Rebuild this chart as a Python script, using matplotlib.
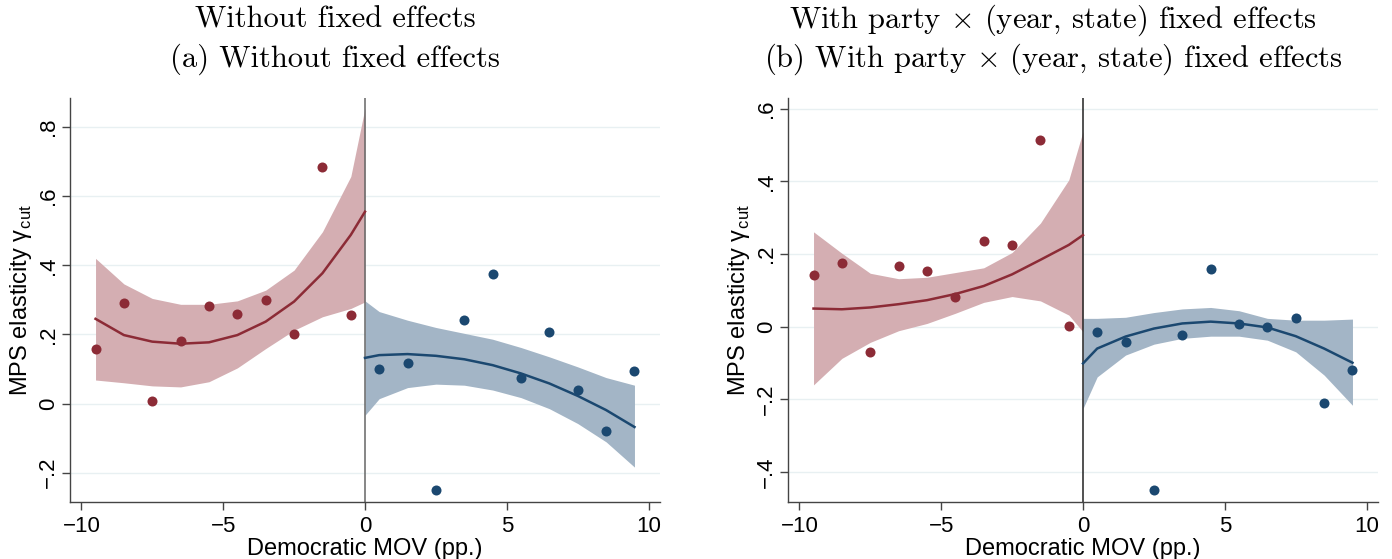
import numpy as np
import matplotlib
matplotlib.use("Agg")
import matplotlib.pyplot as plt

plt.rcParams['font.family'] = ['Liberation Sans', 'DejaVu Sans']
plt.rcParams['mathtext.fontset'] = 'cm'

# --- binned scatter (bins of 1 pp) ---
bins_rep = [-9.5, -8.5, -7.5, -6.5, -5.5, -4.5, -3.5, -2.5, -1.5, -0.5]
bins_dem = [0.5, 1.5, 2.5, 3.5, 4.5, 5.5, 6.5, 7.5, 8.5, 9.5]
fit_rep_x = [-9.5, -8.5, -7.5, -6.5, -5.5, -4.5, -3.5, -2.5, -1.5, -0.5, 0]
fit_dem_x = [0, 0.5, 1.5, 2.5, 3.5, 4.5, 5.5, 6.5, 7.5, 8.5, 9.5]

# panel (a): without fixed effects
a_rep_pts = [0.159, 0.290, 0.008, 0.181, 0.282, 0.258, 0.299, 0.201, 0.684, 0.255]
a_dem_pts = [0.099, 0.116, -0.251, 0.241, 0.374, 0.075, 0.207, 0.039, -0.080, 0.094]
a_rep_fit = [0.245, 0.198, 0.179, 0.173, 0.177, 0.198, 0.237, 0.295, 0.377, 0.488, 0.555]
a_rep_hi = [0.420, 0.346, 0.304, 0.287, 0.287, 0.297, 0.328, 0.386, 0.497, 0.657, 0.855]
a_rep_lo = [0.068, 0.060, 0.051, 0.048, 0.063, 0.103, 0.159, 0.212, 0.251, 0.275, 0.294]
a_dem_fit = [0.132, 0.140, 0.143, 0.138, 0.128, 0.111, 0.087, 0.058, 0.022, -0.019, -0.068]
a_dem_hi = [0.297, 0.266, 0.241, 0.220, 0.203, 0.186, 0.162, 0.135, 0.106, 0.075, 0.053]
a_dem_lo = [-0.034, 0.014, 0.046, 0.056, 0.053, 0.039, 0.017, -0.015, -0.058, -0.111, -0.184]

# panel (b): with party x (year, state) fixed effects
b_rep_pts = [0.142, 0.176, -0.069, 0.167, 0.152, 0.081, 0.236, 0.224, 0.513, 0.003]
b_dem_pts = [-0.014, -0.043, -0.450, -0.023, 0.158, 0.007, 0.000, 0.024, -0.211, -0.119]
b_rep_fit = [0.050, 0.048, 0.053, 0.062, 0.073, 0.090, 0.112, 0.144, 0.184, 0.225, 0.252]
b_rep_hi = [0.261, 0.202, 0.147, 0.132, 0.136, 0.149, 0.162, 0.204, 0.285, 0.404, 0.537]
b_rep_lo = [-0.160, -0.087, -0.043, -0.011, 0.009, 0.037, 0.067, 0.083, 0.071, 0.032, -0.014]
b_dem_fit = [-0.101, -0.060, -0.027, -0.005, 0.009, 0.014, 0.009, -0.002, -0.026, -0.060, -0.099]
b_dem_hi = [0.023, 0.023, 0.026, 0.039, 0.049, 0.053, 0.044, 0.023, 0.018, 0.018, 0.021]
b_dem_lo = [-0.225, -0.138, -0.078, -0.048, -0.032, -0.026, -0.026, -0.037, -0.069, -0.133, -0.216]

xticks = [-10, -5, 0, 5, 10]
xtick_labels = ['\u221210', '\u22125', '0', '5', '10']
a_yticks = [-0.2, 0, 0.2, 0.4, 0.6, 0.8]
a_ylabels = ['\u2212.2', '0', '.2', '.4', '.6', '.8']
b_yticks = [-0.4, -0.2, 0, 0.2, 0.4, 0.6]
b_ylabels = ['\u2212.4', '\u2212.2', '0', '.2', '.4', '.6']

RED = '#8c2b36'
RED_BAND = '#d4aeb2'
BLUE = '#1b4870'
BLUE_BAND = '#a3b5c6'
AXC = '#444444'


def draw_panel(ax, rep_pts, dem_pts, rep_fit, rep_lo, rep_hi, dem_fit, dem_lo, dem_hi,
               yticks, ylabels, ylim, vcolor):
    ax.fill_between(fit_rep_x, rep_lo, rep_hi, color=RED_BAND, lw=0, zorder=1)
    ax.fill_between(fit_dem_x, dem_lo, dem_hi, color=BLUE_BAND, lw=0, zorder=1)
    ax.plot(fit_rep_x, rep_fit, color=RED, lw=1.8, zorder=3)
    ax.plot(fit_dem_x, dem_fit, color=BLUE, lw=1.8, zorder=3)
    ax.scatter(bins_rep, rep_pts, s=52, color=RED, zorder=4, lw=0)
    ax.scatter(bins_dem, dem_pts, s=52, color=BLUE, zorder=4, lw=0)
    ax.axvline(0, color=vcolor, lw=1.1, zorder=2)

    ax.set_xlim(-10.4, 10.4)
    ax.set_ylim(*ylim)
    ax.set_xticks(xticks)
    ax.set_xticklabels(xtick_labels, fontsize=16)
    ax.set_yticks(yticks)
    ax.set_yticklabels(ylabels, fontsize=16, rotation=90, va='center')
    ax.grid(axis='y', color='#e8f0f2', lw=1.0, zorder=0)
    ax.set_axisbelow(True)
    for s in ['top', 'right']:
        ax.spines[s].set_visible(False)
    for s in ['left', 'bottom']:
        ax.spines[s].set_color(AXC)
        ax.spines[s].set_linewidth(1.0)
    ax.tick_params(axis='x', color=AXC, length=6, width=1.0, pad=4)
    ax.tick_params(axis='y', color=AXC, length=6, width=1.0, pad=2)
    ax.set_xlabel('Democratic MOV (pp.)', fontsize=17, labelpad=1)
    ax.set_ylabel('MPS elasticity \u03b3$_{\\mathregular{cut}}$', fontsize=17, labelpad=3)


fig = plt.figure(figsize=(13.92, 5.59), dpi=100)
ax1 = fig.add_axes([70 / 1392, 57 / 559, 590 / 1392, 404 / 559])
ax2 = fig.add_axes([788 / 1392, 57 / 559, 590 / 1392, 404 / 559])

draw_panel(ax1, a_rep_pts, a_dem_pts, a_rep_fit, a_rep_lo, a_rep_hi,
           a_dem_fit, a_dem_lo, a_dem_hi, a_yticks, a_ylabels, (-0.285, 0.884), '#666666')
draw_panel(ax2, b_rep_pts, b_dem_pts, b_rep_fit, b_rep_lo, b_rep_hi,
           b_dem_fit, b_dem_lo, b_dem_hi, b_yticks, b_ylabels, (-0.482, 0.629), '#222222')

tfont = dict(family='cmr10', fontsize=22, ha='center', va='center')
fig.text(335 / 1392, 1 - 20 / 559, 'Without fixed effects', **tfont)
fig.text(335 / 1392, 1 - 59 / 559, '(a) Without fixed effects', **tfont)
fig.text(1053 / 1392, 1 - 20 / 559, r'With party $\times$ (year, state) fixed effects', **tfont)
fig.text(1053 / 1392, 1 - 59 / 559, r'(b) With party $\times$ (year, state) fixed effects', **tfont)

fig.savefig('out.png', dpi=100)
